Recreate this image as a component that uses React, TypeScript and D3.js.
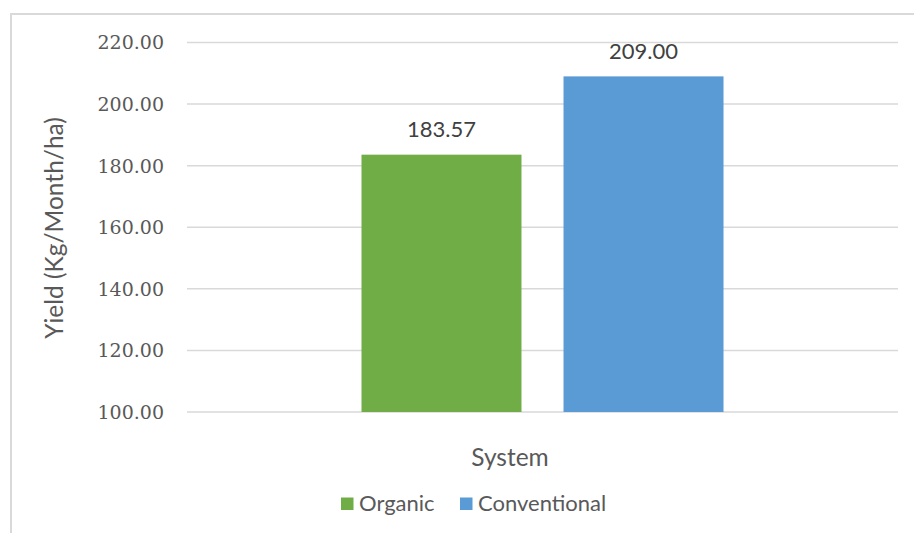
import React from "react";
import * as d3 from "d3";

// Chart data
const categories: string[] = ["System"];
const seriesNames: string[] = ["Organic", "Conventional"];
const seriesValues: number[] = [183.57, 209.0];
const seriesColors: string[] = ["#70AD47", "#5B9BD5"];
const yTicks: number[] = [100, 120, 140, 160, 180, 200, 220];
const yTitle = "Yield (Kg/Month/ha)";
const xTitle = "System";

const W = 914;
const H = 533;
const plot = { left: 187, right: 898, top: 42.5, bottom: 412 };

const sansFont = "Lato, 'Open Sans', sans-serif";
const serifFont = "'DejaVu Serif', serif";

export default function App() {
  const y = d3.scaleLinear().domain([100, 220]).range([plot.bottom, plot.top]);
  const x0 = d3
    .scaleBand<string>()
    .domain(categories)
    .range([plot.left, plot.right])
    .paddingInner(0)
    .paddingOuter(0.482);
  const x1 = d3
    .scaleBand<string>()
    .domain(seriesNames)
    .range([0, x0.bandwidth()])
    .paddingInner(0.208);
  const fmt = d3.format(".2f");

  // legend layout
  const legendItems = [
    { name: seriesNames[0], color: seriesColors[0], x: 341 },
    { name: seriesNames[1], color: seriesColors[1], x: 460 },
  ];

  return (
    <div style={{ position: "absolute", left: 0, top: 0 }}>
      <svg width={W} height={H} style={{ display: "block", background: "#fff" }}>
        {/* chart frame */}
        <rect x={11} y={14} width={1200} height={1200} fill="none" stroke="#D9D9D9" strokeWidth={2} />

        {/* gridlines */}
        {yTicks.map((t) => (
          <line
            key={"g" + t}
            x1={plot.left}
            x2={plot.right}
            y1={y(t)}
            y2={y(t)}
            stroke="#D9D9D9"
            strokeWidth={1.5}
          />
        ))}

        {/* tick labels */}
        {yTicks.map((t) => (
          <text
            key={"t" + t}
            x={164}
            y={y(t)}
            dy="0.36em"
            textAnchor="end"
            fontFamily={serifFont}
            fontSize={19}
            fill="#595959"
          >
            {fmt(t)}
          </text>
        ))}

        {/* bars */}
        {categories.map((c) => (
          <g key={c} transform={`translate(${x0(c)},0)`}>
            {seriesNames.map((s, i) => {
              const v = seriesValues[i];
              const bx = x1(s) as number;
              return (
                <g key={s}>
                  <rect
                    x={bx}
                    y={y(v)}
                    width={x1.bandwidth()}
                    height={y(100) - y(v)}
                    fill={seriesColors[i]}
                  />
                  <text
                    x={bx + x1.bandwidth() / 2}
                    y={y(v) - 17.5}
                    textAnchor="middle"
                    fontFamily={sansFont}
                    fontSize={22}
                    fill="#404040"
                  >
                    {fmt(v)}
                  </text>
                </g>
              );
            })}
          </g>
        ))}

        {/* y axis title */}
        <text
          transform={`translate(63,228) rotate(-90)`}
          textAnchor="middle"
          fontFamily={sansFont}
          fontSize={24.5}
          fill="#595959"
        >
          {yTitle}
        </text>

        {/* x axis title */}
        <text x={510} y={466} textAnchor="middle" fontFamily={sansFont} fontSize={24.5} fill="#595959">
          {xTitle}
        </text>

        {/* legend */}
        {legendItems.map((it) => (
          <g key={it.name}>
            <rect x={it.x} y={497.5} width={12.5} height={12.5} fill={it.color} />
            <text x={it.x + 18} y={511} fontFamily={sansFont} fontSize={22} fill="#595959">
              {it.name}
            </text>
          </g>
        ))}
      </svg>
    </div>
  );
}
